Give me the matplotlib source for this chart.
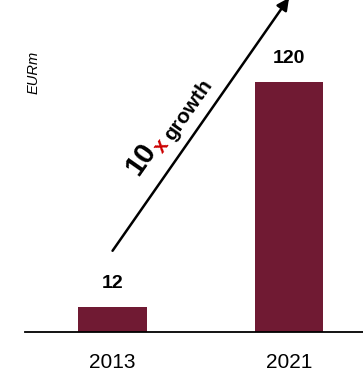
import matplotlib.pyplot as plt

# data
years = ['2013', '2021']
revenue = [12, 120]
unit_label = 'EURm'

bar_color = '#701a33'
narrow = ['Liberation Sans Narrow', 'Liberation Sans', 'DejaVu Sans']

fig = plt.figure(figsize=(3.63, 3.73), dpi=100)
ax = fig.add_axes([25 / 363, 41 / 373, 338 / 363, 332 / 373])

pos = list(range(len(years)))
ax.bar(pos, revenue, width=0.39, color=bar_color, zorder=2)

# scales chosen so that bars sit like the reference
ax.set_xlim(-0.496, 1.419)
ax.set_ylim(0, 159.4)

for x, v in zip(pos, revenue):
    ax.annotate(str(v), (x, v), xytext=(0, 10.5), textcoords='offset points',
                ha='center', va='bottom', fontsize=14, fontweight='bold',
                family=narrow)

ax.set_xticks(pos)
ax.set_xticklabels(years, family=narrow, fontsize=15)
ax.tick_params(axis='x', length=0, pad=15)
ax.set_yticks([])
for s in ['top', 'right', 'left']:
    ax.spines[s].set_visible(False)
ax.spines['bottom'].set_linewidth(1.3)

# growth arrow from first bar label up towards the second bar
ax.annotate('', xy=(pos[1], revenue[1] * 1.337), xytext=(pos[0], revenue[0] * 3.25),
            arrowprops=dict(arrowstyle='-|>', color='black', lw=1.8,
                            mutation_scale=18, shrinkA=0, shrinkB=0),
            annotation_clip=False)

# "10x growth" text along the arrow
ang = 55
ax.text(0.343, 0.52, '10', transform=ax.transAxes, rotation=ang,
        rotation_mode='anchor', ha='center', va='center', fontsize=21,
        fontweight='bold', family=narrow)
ax.text(0.404, 0.56, 'x', transform=ax.transAxes, rotation=ang,
        rotation_mode='anchor', ha='center', va='center', fontsize=15,
        fontweight='bold', color='#cc0000', family=narrow)
ax.text(0.482, 0.67, 'growth', transform=ax.transAxes, rotation=ang,
        rotation_mode='anchor', ha='center', va='center', fontsize=15,
        fontweight='bold', family=narrow)

fig.text(33.5 / 363, 1 - 72 / 373, unit_label, rotation=90, ha='center',
         va='center', fontsize=10.5, style='italic', family=narrow)

fig.savefig('out.png', dpi=100)
